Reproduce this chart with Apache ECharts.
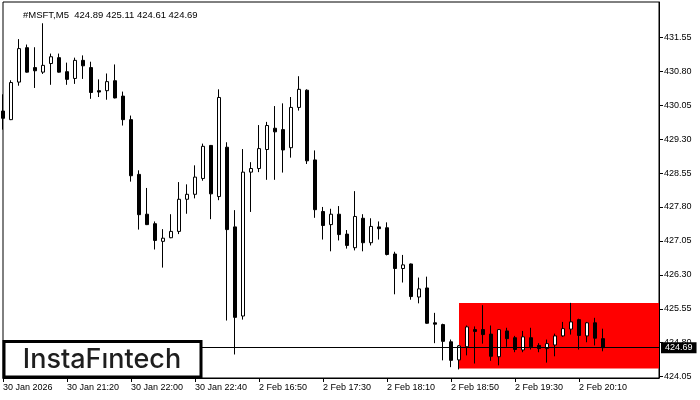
<!DOCTYPE html>
<html>
<head>
<meta charset="utf-8">
<script src="https://cdn.jsdelivr.net/npm/echarts@6/dist/echarts.min.js"></script>
<style>html,body{margin:0;padding:0;background:#fff}#c{width:700px;height:400px}</style>
</head>
<body>
<div id="c"></div>
<script>
const titleText = '#MSFT,M5  424.89 425.11 424.61 424.69';
const categories = [
 '30 Jan 20:40','30 Jan 20:45','30 Jan 20:50','30 Jan 20:55','30 Jan 21:00','30 Jan 21:05','30 Jan 21:10','30 Jan 21:15',
 '30 Jan 21:20','30 Jan 21:25','30 Jan 21:30','30 Jan 21:35','30 Jan 21:40','30 Jan 21:45','30 Jan 21:50','30 Jan 21:55',
 '30 Jan 22:00','30 Jan 22:05','30 Jan 22:10','30 Jan 22:15','30 Jan 22:20','30 Jan 22:25','30 Jan 22:30','30 Jan 22:35',
 '30 Jan 22:40','30 Jan 22:45','30 Jan 22:50','30 Jan 22:55','2 Feb 16:30','2 Feb 16:35','2 Feb 16:40','2 Feb 16:45',
 '2 Feb 16:50','2 Feb 16:55','2 Feb 17:00','2 Feb 17:05','2 Feb 17:10','2 Feb 17:15','2 Feb 17:20','2 Feb 17:25',
 '2 Feb 17:30','2 Feb 17:35','2 Feb 17:40','2 Feb 17:45','2 Feb 17:50','2 Feb 17:55','2 Feb 18:00','2 Feb 18:05',
 '2 Feb 18:10','2 Feb 18:15','2 Feb 18:20','2 Feb 18:25','2 Feb 18:30','2 Feb 18:35','2 Feb 18:40','2 Feb 18:45',
 '2 Feb 18:50','2 Feb 18:55','2 Feb 19:00','2 Feb 19:05','2 Feb 19:10','2 Feb 19:15','2 Feb 19:20','2 Feb 19:25',
 '2 Feb 19:30','2 Feb 19:35','2 Feb 19:40','2 Feb 19:45','2 Feb 19:50','2 Feb 19:55','2 Feb 20:00','2 Feb 20:05',
 '2 Feb 20:10','2 Feb 20:15','2 Feb 20:20','2 Feb 20:25','2 Feb 20:30','2 Feb 20:35','2 Feb 20:40','2 Feb 20:45',
 '2 Feb 20:50','2 Feb 20:55','2 Feb 21:00'
];
const tickLabels = ['30 Jan 2026','30 Jan 21:20','30 Jan 22:00','30 Jan 22:40','2 Feb 16:50','2 Feb 17:30','2 Feb 18:10','2 Feb 18:50','2 Feb 19:30','2 Feb 20:10'];
const priceTicks = [424.05, 424.80, 425.55, 426.30, 427.05, 427.80, 428.55, 429.30, 430.05, 430.80, 431.55];

const opens = [429.92,429.73,430.56,431.32,430.88,430.78,430.97,431.10,430.79,430.64,431.04,430.88,430.37,430.37,430.59,430.25,
 429.73,428.52,427.64,427.43,427.04,427.12,427.26,427.97,428.08,428.43,429.16,428.03,429.12,427.36,425.39,428.57,
 428.65,429.07,429.54,429.51,429.11,430.00,430.38,428.84,427.70,427.41,427.64,427.20,426.90,427.55,427.01,427.36,
 427.34,426.76,426.44,426.54,425.81,426.01,425.24,425.20,424.82,424.42,424.71,425.09,425.09,424.99,424.49,425.06,
 424.91,424.64,424.91,424.74,424.67,424.75,424.95,425.10,425.31,424.95,425.24,424.89];
const highs = [430.29,430.60,431.51,431.39,431.33,431.86,431.19,431.19,430.99,431.10,431.15,431.01,430.62,430.75,430.95,430.35,
 429.82,428.61,428.22,427.48,427.31,427.64,428.35,428.30,428.72,429.20,429.17,430.40,429.23,427.73,429.08,428.79,
 429.61,429.68,430.03,430.09,430.23,430.69,430.40,429.05,427.80,427.76,427.82,427.29,428.15,427.64,427.55,427.48,
 427.46,426.81,426.74,426.55,426.24,426.26,425.46,425.22,424.87,424.75,425.18,425.16,425.63,425.18,425.10,425.13,
 424.95,425.06,425.13,424.79,424.87,425.00,425.26,425.68,425.33,425.26,425.35,425.11];
const lows = [429.51,429.72,430.48,430.77,430.43,430.74,430.50,430.77,430.50,430.52,430.63,430.19,430.23,430.17,430.20,429.60,
 428.36,427.30,427.40,426.86,426.46,427.11,427.20,427.65,427.99,428.38,427.53,427.95,425.29,424.54,425.31,427.69,
 428.57,428.40,428.40,428.56,428.89,429.93,428.75,427.56,427.08,426.82,427.06,426.88,426.84,426.82,426.95,427.08,
 426.73,425.87,426.13,425.75,425.67,425.22,424.79,424.41,424.26,424.21,424.52,424.34,424.78,424.40,424.30,424.71,
 424.59,424.59,424.65,424.59,424.36,424.50,424.93,424.98,424.65,424.81,424.74,424.61];
const closes = [429.76,430.55,431.30,430.78,430.81,430.93,431.12,430.78,430.62,431.04,430.92,430.33,430.34,430.57,430.21,429.73,
 428.49,427.63,427.41,427.06,427.11,427.26,427.97,428.08,428.46,429.14,428.09,430.22,427.30,425.36,428.57,428.65,
 429.09,429.60,429.46,429.06,430.00,430.40,428.82,427.74,427.39,427.64,427.19,426.95,427.59,427.01,427.37,427.32,
 426.75,426.44,426.52,425.82,425.99,425.23,425.21,424.83,424.41,424.73,425.15,425.05,424.98,424.50,425.09,424.89,
 424.65,424.93,424.71,424.67,424.78,424.95,425.11,425.26,424.96,425.24,424.90,424.69];

const currentPrice = 424.69;
const zoneStartIndex = 57;
const zoneTop = 425.68;
const zoneBottom = 424.23;

const candleData = opens.map((o, i) => [o, closes[i], lows[i], highs[i]]);
const FONT = 'Liberation Sans';
const isTick = (i) => i % 8 === 0 && i / 8 < tickLabels.length;

const chart = echarts.init(document.getElementById('c'), null, {renderer: 'canvas'});
chart.setOption({
  animation: false,
  backgroundColor: '#fff',
  grid: {left: 3, top: 2, right: 41, bottom: 22, show: true, borderColor: '#000', borderWidth: 1, backgroundColor: 'transparent'},
  xAxis: {
    type: 'category', data: categories, boundaryGap: false,
    axisLine: {show: true, lineStyle: {color: '#000', width: 1}},
    axisTick: {show: true, interval: (i) => isTick(i), length: 4, lineStyle: {color: '#000'}},
    axisLabel: {interval: (i) => isTick(i), formatter: (v, i) => tickLabels[i / 8] || '', align: 'left', margin: 5,
      color: '#000', fontSize: 9, fontFamily: FONT},
    splitLine: {show: false}
  },
  yAxis: {
    type: 'value', position: 'right', min: 424.02, max: 432.33, scale: true,
    axisLine: {show: true, lineStyle: {color: '#000', width: 1}},
    axisTick: {show: true, length: 4, customValues: priceTicks, lineStyle: {color: '#000'}},
    axisLabel: {customValues: priceTicks, formatter: (v) => v.toFixed(2), margin: 5, color: '#000', fontSize: 9, fontFamily: FONT},
    splitLine: {show: false}
  },
  title: {text: titleText, left: 18, top: 5, textStyle: {fontSize: 9.5, fontWeight: 'normal', color: '#000', fontFamily: FONT}},
  series: [
    {
      type: 'line', data: [], z: 1, silent: true,
      markArea: {silent: true, itemStyle: {color: '#ff0000', opacity: 1},
        data: [[{xAxis: zoneStartIndex, yAxis: zoneTop}, {xAxis: categories.length - 1, yAxis: zoneBottom}]]}
    },
    {
      type: 'line', data: [], z: 2, silent: true,
      markLine: {silent: true, symbol: ['none', 'none'], lineStyle: {color: '#000', width: 1, type: 'solid'},
        label: {show: true, position: 'end', distance: 2, formatter: currentPrice.toFixed(2), backgroundColor: '#000',
          color: '#fff', fontSize: 9, fontFamily: FONT, padding: [1, 4, 0, 4], lineHeight: 10},
        data: [{yAxis: currentPrice}]}
    },
    {
      type: 'candlestick', data: candleData, z: 3, barWidth: 4,
      itemStyle: {color: '#fff', color0: '#000', borderColor: '#000', borderColor0: '#000', borderWidth: 1}
    }
  ],
  graphic: [
    {type: 'rect', z: 100, shape: {x: 4, y: 341.5, width: 197, height: 35.5},
      style: {fill: '#fff', stroke: '#000', lineWidth: 3}},
    {type: 'text', z: 101, x: 102, y: 359.5,
      style: {text: 'InstaF\u0131ntech', fill: '#1e1e1e', font: '500 27px Inter', align: 'center', verticalAlign: 'middle'}}
  ]
});
</script>
</body>
</html>
